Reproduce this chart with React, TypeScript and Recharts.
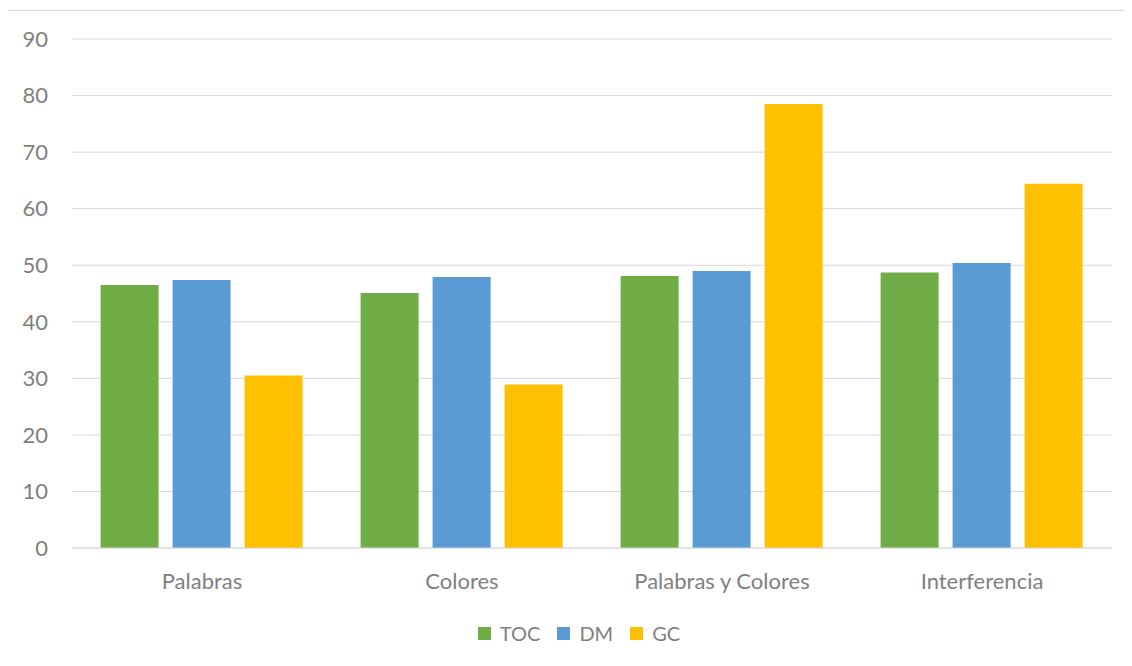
import { BarChart, Bar, XAxis, YAxis, CartesianGrid, Legend } from "recharts";

const categories = ["Palabras", "Colores", "Palabras y Colores", "Interferencia"];
const toc = [46.5, 45.1, 48.1, 48.7];
const dm = [47.4, 47.9, 49.0, 50.4];
const gc = [30.5, 28.9, 78.5, 64.4];
const yTicks = [0, 10, 20, 30, 40, 50, 60, 70, 80, 90];

const series = [
  { key: "TOC", values: toc, color: "#70AD47" },
  { key: "DM", values: dm, color: "#5B9BD5" },
  { key: "GC", values: gc, color: "#FFC000" },
];

const data = categories.map((name, i) => ({
  name,
  TOC: toc[i],
  DM: dm[i],
  GC: gc[i],
}));

const FONT = "Lato, 'Open Sans', sans-serif";
const TEXT = "#7f7f7f";

function LegendContent() {
  return (
    <div
      style={{
        display: "flex",
        justifyContent: "center",
        alignItems: "center",
        height: 22,
        paddingLeft: 38,
        fontFamily: FONT,
        fontSize: 20,
        lineHeight: "22px",
        color: TEXT,
      }}
    >
      {series.map((s, i) => (
        <div
          key={s.key}
          style={{ display: "flex", alignItems: "center", marginRight: i < series.length - 1 ? 17 : 0 }}
        >
          <span
            style={{
              display: "inline-block",
              width: 13,
              height: 13,
              background: s.color,
              marginRight: 9,
            }}
          />
          <span>{s.key}</span>
        </div>
      ))}
    </div>
  );
}

export default function App() {
  return (
    <div
      style={{
        position: "relative",
        left: -1,
        top: 2,
        width: 1124,
        height: 655,
        borderTop: "1px solid #d9d9d9",
        borderLeft: "1px solid #d9d9d9",
      }}
    >
      <BarChart
        width={1124}
        height={655}
        data={data}
        margin={{ top: 28, right: 20, left: 0, bottom: 14 }}
        barCategoryGap="11%"
        barGap={14}
      >
        <CartesianGrid vertical={false} stroke="#d9d9d9" strokeWidth={1} />
        <XAxis
          dataKey="name"
          height={74}
          tickLine={false}
          axisLine={{ stroke: "#d9d9d9" }}
          tickMargin={19}
          tick={{ fill: TEXT, fontSize: 22, fontFamily: FONT }}
        />
        <YAxis
          width={64}
          domain={[0, 90]}
          ticks={yTicks}
          interval={0}
          tickLine={false}
          axisLine={false}
          tickMargin={18}
          tick={{ fill: TEXT, fontSize: 22, fontFamily: FONT }}
        />
        <Legend verticalAlign="bottom" height={30} content={<LegendContent />} />
        {series.map((s) => (
          <Bar key={s.key} dataKey={s.key} fill={s.color} isAnimationActive={false} />
        ))}
      </BarChart>
    </div>
  );
}
